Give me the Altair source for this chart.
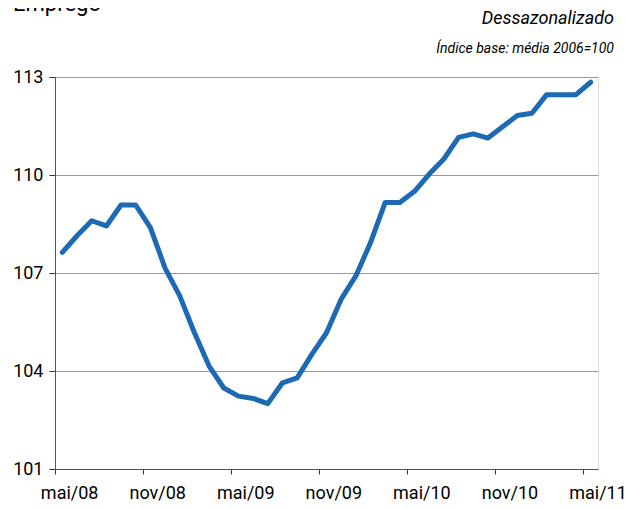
import altair as alt
import pandas as pd

month_names = ["mai", "jun", "jul", "ago", "set", "out", "nov", "dez", "jan", "fev", "mar", "abr"]
months = []
for i in range(37):
    m = month_names[i % 12]
    yr = 8 + (i + 4) // 12
    months.append(f"{m}/{yr:02d}")

values = [107.63, 108.14, 108.60, 108.44, 109.08, 109.08, 108.39, 107.15, 106.30, 105.17,
          104.15, 103.48, 103.23, 103.16, 103.00, 103.64, 103.79, 104.51, 105.17, 106.20,
          106.91, 107.93, 109.16, 109.16, 109.50, 110.03, 110.49, 111.15, 111.26, 111.13,
          111.48, 111.82, 111.89, 112.46, 112.46, 112.46, 112.84]

tick_labels = ["mai/08", "nov/08", "mai/09", "nov/09", "mai/10", "nov/10", "mai/11"]
y_ticks = [101, 104, 107, 110, 113]

title_text = "Emprego"
subtitle1 = "Dessazonalizado"
subtitle2 = "Índice base: média 2006=100"

FONT = "Roboto, Liberation Sans, sans-serif"

df = pd.DataFrame({"mes": months, "indice": values})

W = 543
H = 392

x_enc = alt.X(
    "mes:N",
    sort=months,
    bandPosition=0.5,
    scale=alt.Scale(type="band", paddingInner=0, paddingOuter=0),
    axis=alt.Axis(
        title=None,
        values=tick_labels,
        bandPosition=0,
        labelOffset=W / 37 / 2,
        labelAngle=0,
        labelFont=FONT,
        labelFontSize=18,
        labelColor="#000000",
        labelPadding=10,
        tickColor="#333333",
        tickSize=5,
        domainColor="#555555",
        grid=False,
    ),
)

y_enc = alt.Y(
    "indice:Q",
    scale=alt.Scale(domain=[101, 113], nice=False, zero=False),
    axis=alt.Axis(
        title=None,
        values=y_ticks,
        labelFont=FONT,
        labelFontSize=18,
        labelColor="#000000",
        labelPadding=6,
        tickColor="#333333",
        tickSize=6,
        domainColor="#555555",
        grid=True,
        gridColor="#7f99d8",
        gridOpacity=1,
        gridWidth=1,
    ),
)

line = alt.Chart(df).mark_line(
    color="#1c69b4", strokeWidth=5, strokeJoin="round", strokeCap="round"
).encode(x=x_enc, y=y_enc)

title_mark = alt.Chart(pd.DataFrame({"t": [title_text]})).mark_text(
    align="left", baseline="alphabetic", fontSize=22, font=FONT, color="#000000"
).encode(text="t:N", x=alt.value(-42), y=alt.value(-66))

sub1 = alt.Chart(pd.DataFrame({"t": [subtitle1]})).mark_text(
    align="right", baseline="alphabetic", fontSize=18, fontStyle="italic", font=FONT, color="#000000"
).encode(text="t:N", x=alt.value(559), y=alt.value(-53))

sub2 = alt.Chart(pd.DataFrame({"t": [subtitle2]})).mark_text(
    align="right", baseline="alphabetic", fontSize=14, fontStyle="italic", font=FONT, color="#000000"
).encode(text="t:N", x=alt.value(559), y=alt.value(-24))

chart = alt.layer(line, title_mark, sub1, sub2).properties(
    width=W,
    height=H,
    autosize=alt.AutoSizeParams(type="none"),
    padding={"left": 47, "top": 69, "right": 31, "bottom": 32},
).configure_view(stroke=None).configure(background="#ffffff")

chart.save("out.html", embed_options={"renderer": "svg", "actions": False})
